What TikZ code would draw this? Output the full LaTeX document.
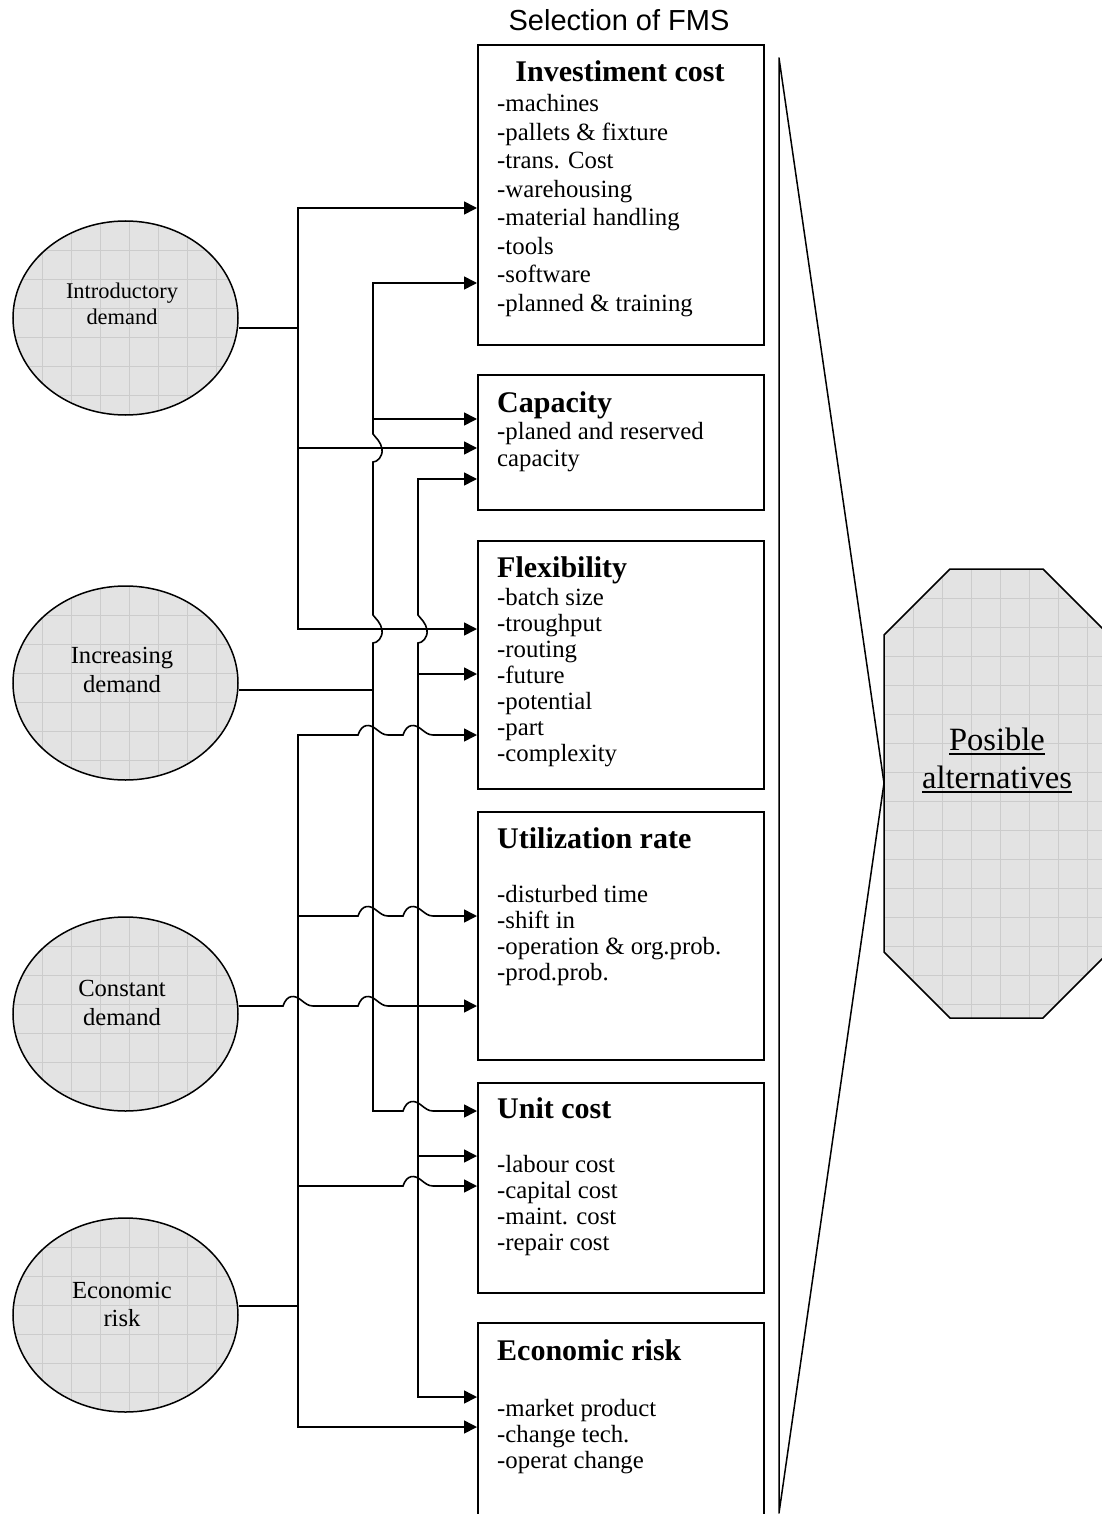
\documentclass[tikz,border=0pt]{standalone}
\usepackage{fontspec}
\setmainfont{Liberation Serif}
\newfontfamily\arialf{Liberation Sans}
\usetikzlibrary{arrows.meta,shapes.geometric}

\newcommand{\hhop}[2]{-- ({#1-15},#2) .. controls ({#1-11},{#2-12}) and ({#1-3},{#2-11}) .. ({#1+3},{#2-6}) .. controls ({#1+7},{#2-3}) and ({#1+10},#2) .. ({#1+15},#2)}
\newcommand{\vhop}[2]{-- (#1,{#2-14}) .. controls ({#1+3},{#2-10}) and ({#1+8},{#2-6}) .. ({#1+9},{#2+1}) .. controls ({#1+10},{#2+9}) and ({#1+4},{#2+14}) .. (#1,{#2+14})}
\newcommand{\myul}[1]{\leavevmode\setbox0=\hbox{#1}\rlap{\rule[-4.5pt]{\wd0}{1.5pt}}\box0}

\tikzset{
  wire/.style={line width=1.6pt, line join=miter},
  arr/.style={wire, -{Triangle[length=13pt,width=13pt]}},
  arrtwo/.style={wire, {Triangle[length=13pt,width=13pt]}-{Triangle[length=13pt,width=13pt]}},
  boxx/.style={draw, line width=1.8pt, minimum width=286pt, anchor=north west, inner sep=0pt},
  itm/.style={anchor=base west, inner sep=0pt, font=\fontsize{24.8}{28}\selectfont},
  ttl/.style={anchor=base west, inner sep=0pt, font=\fontsize{30}{34}\selectfont\bfseries},
  elab/.style={anchor=base, inner sep=0pt, font=\fontsize{24.6}{28}\selectfont},
  gridl/.style={black!20, line width=0.9pt},
  shpfill/.style={fill=black!11},
}

\newcommand{\mkell}[2]{%
  \fill[shpfill] (125.5,#2) ellipse [x radius=112.5, y radius=97];
  \begin{scope}
    \clip (125.5,#2) ellipse [x radius=112.5, y radius=97];
    \foreach \k in {1,...,7} \draw[gridl] ({13+29*\k},{#2-100}) -- ({13+29*\k},{#2+100});
    \foreach \k in {1,...,6} \draw[gridl] (10,{#2-97+29*\k}) -- (240,{#2-97+29*\k});
  \end{scope}
  \node[draw, ellipse, line width=1.5pt, minimum width=225pt, minimum height=194pt, inner sep=0pt] (#1) at (125.5,#2) {};
}

\begin{document}
\begin{tikzpicture}[x=1pt,y=-1pt]
\path[use as bounding box, clip] (0,0) rectangle (1102,1514);
\fill[white] (0,0) rectangle (1102,1514);

% title
\node[anchor=base, inner sep=0pt, font=\arialf\fontsize{29}{33}\selectfont] (sel) at (619,31) {Selection of FMS};

% boxes
\node[boxx, minimum height=300pt] (inv) at (477,44) {};
\node[boxx, minimum height=135pt] (cap) at (477,374) {};
\node[boxx, minimum height=248pt] (flx) at (477,540) {};
\node[boxx, minimum height=248pt] (util) at (477,811) {};
\node[boxx, minimum height=210pt] (unit) at (477,1082) {};
\node[boxx, minimum height=230pt] (risk) at (477,1322) {};

% box texts
\node[ttl, anchor=base] (invt) at (620,82) {Investiment cost};
\foreach \t [count=\i] in {-machines,-pallets \& fixture,-trans. Cost,-warehousing,-material handling,-tools,-software,-planned \& training}
  \node[itm] (inv\i) at (497,{112+28.5*(\i-1)}) {\t};

\node[ttl] (capt) at (497,412) {Capacity};
\node[itm] (cap1) at (497,439) {-planed and reserved};
\node[itm] (cap2) at (497,466) {capacity};

\node[ttl] (flxt) at (497,577) {Flexibility};
\foreach \t [count=\i] in {-batch size,-troughput,-routing,-future,-potential,-part,-complexity}
  \node[itm] (flx\i) at (497,{605+26*(\i-1)}) {\t};

\node[ttl] (utilt) at (497,848) {Utilization rate};
\foreach \t [count=\i] in {-disturbed time,-shift in,-operation \& org.prob.,-prod.prob.}
  \node[itm] (util\i) at (497,{902+26.2*(\i-1)}) {\t};

\node[ttl] (unitt) at (497,1118) {Unit cost};
\foreach \t [count=\i] in {-labour cost,-capital cost,-maint. cost,-repair cost}
  \node[itm] (unit\i) at (497,{1172.5+26*(\i-1)}) {\t};

\node[ttl] (riskt) at (497,1360) {Economic risk};
\foreach \t [count=\i] in {-market product,-change tech.,-operat change}
  \node[itm] (risk\i) at (497,{1416+26*(\i-1)}) {\t};

% triangle
\draw[line width=1.5pt, line join=round] (779,58) -- (884,783) -- (779,1513) -- cycle;

% octagon
\fill[shpfill] (950,569) -- (1043,569) -- (1109,635) -- (1109,952) -- (1043,1018) -- (950,1018) -- (884,952) -- (884,635) -- cycle;
\begin{scope}
  \clip (950,569) -- (1043,569) -- (1109,635) -- (1109,952) -- (1043,1018) -- (950,1018) -- (884,952) -- (884,635) -- cycle;
  \foreach \k in {1,...,7} \draw[gridl] ({884+29*\k},560) -- ({884+29*\k},1030);
  \foreach \k in {1,...,15} \draw[gridl] (880,{569+29*\k}) -- (1110,{569+29*\k});
\end{scope}
\draw[line width=1.5pt, line join=miter] (950,569) -- (1043,569) -- (1109,635) -- (1109,952) -- (1043,1018) -- (950,1018) -- (884,952) -- (884,635) -- cycle;
\node[anchor=base, inner sep=0pt, font=\fontsize{32.5}{37}\selectfont] (alt1) at (997,750) {\myul{Posible}};
\node[anchor=base, inner sep=0pt, font=\fontsize{32.5}{37}\selectfont] (alt2) at (997,788) {\myul{alternatives}};

% ellipses
\mkell{e1}{318}
\mkell{e2}{683}
\mkell{e3}{1014}
\mkell{e4}{1315}
\node[elab, font=\fontsize{22.4}{26}\selectfont] (e1a) at (122,298) {Introductory};
\node[elab, font=\fontsize{22.4}{26}\selectfont] (e1b) at (122,324) {demand};
\node[elab] (e2a) at (122,663) {Increasing};
\node[elab] (e2b) at (122,692) {demand};
\node[elab] (e3a) at (122,996) {Constant};
\node[elab] (e3b) at (122,1025) {demand};
\node[elab] (e4a) at (122,1298) {Economic};
\node[elab] (e4b) at (122,1326) {risk};

% junction coordinates
\coordinate (A1) at (298,208);
\coordinate (A2) at (298,328);
\coordinate (A3) at (298,448);
\coordinate (A4) at (298,629);
\coordinate (B1) at (373,283);
\coordinate (B2) at (373,419);
\coordinate (B3) at (373,690);
\coordinate (B4) at (373,1111);
\coordinate (C1) at (418,479);
\coordinate (C2) at (418,674);
\coordinate (C3) at (418,1006);
\coordinate (C4) at (418,1156);
\coordinate (C5) at (418,1397);
\coordinate (D1) at (298,735);
\coordinate (D2) at (298,916);
\coordinate (D3) at (298,1186);
\coordinate (D4) at (298,1306);
\coordinate (D5) at (298,1427);

% introductory demand bus
\draw[wire] (A2 -| e1.east) -- (A2);
\draw[arr] (A2) -- (A1) -- (A1 -| inv.west);
\draw[arr] (A2) -- (A4) -- (A4 -| flx.west);
\draw[arr] (A3) -- (A3 -| cap.west);

% increasing demand bus
\draw[wire] (B3 -| e2.east) -- (B3);
\draw[arrtwo] (B1 -| inv.west) -- (B1) \vhop{373}{448} \vhop{373}{629} -- (B4) \hhop{418}{1111} -- (B4 -| unit.west);
\draw[arr] (B2) -- (B2 -| cap.west);

% constant demand bus
\draw[arr] (C3 -| e3.east) \hhop{298}{1006} \hhop{373}{1006} -- (C3 -| util.west);
\draw[arrtwo] (C1 -| cap.west) -- (C1) \vhop{418}{629} -- (C5) -- (C5 -| risk.west);
\draw[arr] (C2) -- (C2 -| flx.west);
\draw[arr] (C4) -- (C4 -| unit.west);

% economic risk bus
\draw[wire] (D4 -| e4.east) -- (D4);
\draw[arr] (D4) -- (D1) \hhop{373}{735} \hhop{418}{735} -- (D1 -| flx.west);
\draw[arr] (D4) -- (D5) -- (D5 -| risk.west);
\draw[arr] (D2) \hhop{373}{916} \hhop{418}{916} -- (D2 -| util.west);
\draw[arr] (D3) \hhop{418}{1186} -- (D3 -| unit.west);
\end{tikzpicture}
\end{document}
